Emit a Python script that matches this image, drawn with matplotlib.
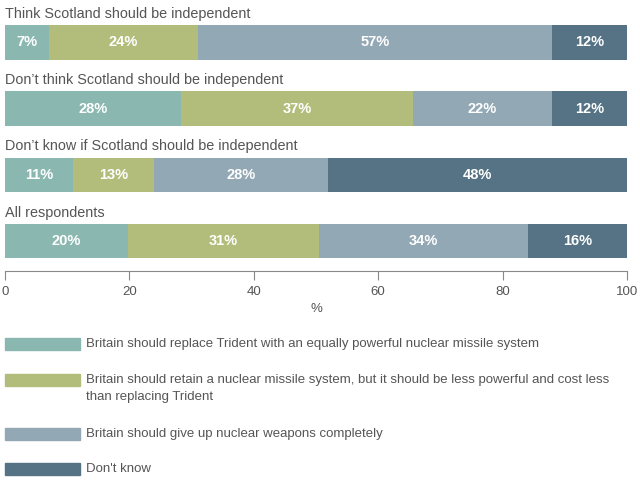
import matplotlib.pyplot as plt
from matplotlib.patches import Rectangle

plt.rcParams['font.family'] = ['Liberation Sans', 'DejaVu Sans']

groups = ["Think Scotland should be independent",
          "Don\u2019t think Scotland should be independent",
          "Don\u2019t know if Scotland should be independent",
          "All respondents"]
replace = [7, 28, 11, 20]
retain = [24, 37, 13, 31]
give_up = [57, 22, 28, 34]
dont_know = [12, 12, 48, 16]

series_labels = ["Britain should replace Trident with an equally powerful nuclear missile system",
                 "Britain should retain a nuclear missile system, but it should be less powerful and cost less\nthan replacing Trident",
                 "Britain should give up nuclear weapons completely",
                 "Don't know"]
colors = ["#8ab8b1", "#b3bd7b", "#92a8b4", "#557385"]
text_grey = "#555555"

fig = plt.figure(figsize=(6.4, 4.8), dpi=100)
# axes spans from top of figure to the axis line (pixel 271)
ax = fig.add_axes([5 / 640, 1 - 271 / 480, 622 / 640, 271 / 480])

row_step = 66.2
ax.set_ylim((271 - 42.5) / row_step, -42.5 / row_step)
ax.set_xlim(0, 100)

series = [replace, retain, give_up, dont_know]
for i, g in enumerate(groups):
    # rounded values don't always add to 100, bars are stretched to full width
    total = sum(vals[i] for vals in series)
    left = 0
    for vals, c in zip(series, colors):
        v = vals[i]
        w = v * 100.0 / total
        ax.barh(i, w, left=left, height=0.52, color=c, edgecolor='none')
        ax.text(left + w / 2, i, "{}%".format(v), ha='center', va='center',
                color='white', fontsize=10.5, fontweight='bold')
        left += w
    ax.text(0, i - 0.37, g, ha='left', va='baseline', color=text_grey, fontsize=10.4)

for s in ['top', 'left', 'right']:
    ax.spines[s].set_visible(False)
ax.spines['bottom'].set_color('#888888')
ax.spines['bottom'].set_linewidth(0.8)
ax.set_yticks([])
ax.set_xticks([0, 20, 40, 60, 80, 100])
ax.tick_params(axis='x', direction='out', length=6.5, width=0.8, color='#888888',
               labelcolor=text_grey, labelsize=9.5, pad=4)
ax.set_xlabel("%", color=text_grey, fontsize=9.5, labelpad=4)

# legend drawn by hand below the axis
legend_y = [344, 380, 434, 469]
for lab, c, y in zip(series_labels, colors, legend_y):
    fig.patches.append(Rectangle((5 / 640, 1 - (y + 6) / 480), 75 / 640, 12 / 480,
                                 transform=fig.transFigure, color=c))
    if '\n' in lab:
        fig.text(86 / 640, 1 - (y - 6) / 480, lab, ha='left', va='top',
                 color=text_grey, fontsize=9.5, linespacing=1.6)
    else:
        fig.text(86 / 640, 1 - y / 480, lab, ha='left', va='center',
                 color=text_grey, fontsize=9.5)

fig.savefig("out.png", dpi=100)
